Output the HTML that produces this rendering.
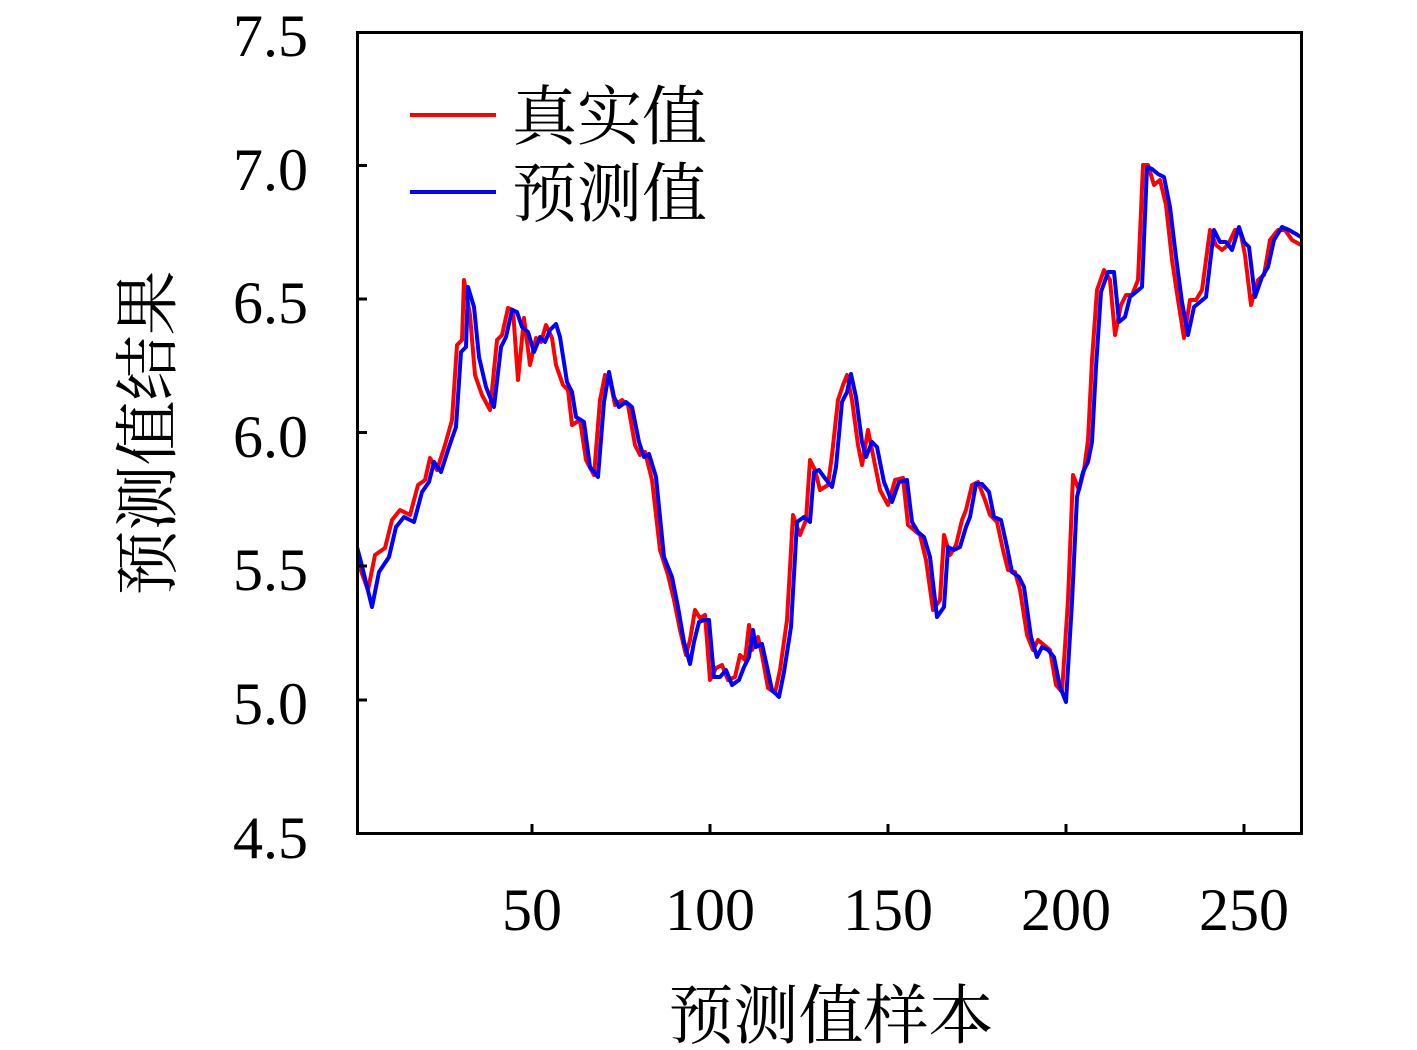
<!DOCTYPE html>
<html><head><meta charset="utf-8"><style>body{margin:0;background:#fff}svg{display:block}</style></head>
<body>
<svg width="1417" height="1050" xmlns="http://www.w3.org/2000/svg">
<rect width="1417" height="1050" fill="#fff"/>
<defs><clipPath id="c"><rect x="357" y="32" width="944" height="801"/></clipPath></defs>
<g clip-path="url(#c)" fill="none" stroke-width="4" stroke-linejoin="round">
<polyline stroke="#f00" points="357,560 368,590 375,555 385,548 392,520 400,510 410,515 418,485 425,480 430,458 437,470 445,445 452,420 457,345 462,340 464,280 470,315 475,375 482,395 490,410 497,340 502,335 508,308 513,310 518,380 524,318 530,365 536,338 541,342 546,325 552,338 556,365 563,385 568,390 572,425 580,420 586,460 594,475 600,400 605,375 610,380 615,405 622,400 628,405 635,445 640,455 645,452 652,480 660,550 668,575 674,600 680,630 686,655 690,640 695,610 700,618 705,615 710,680 716,668 722,665 728,680 735,677 740,655 745,660 749,625 752,650 758,637 762,655 768,688 775,693 780,670 787,620 793,515 800,535 806,520 810,460 815,470 820,490 828,485 832,455 838,400 843,385 847,375 852,400 858,445 862,465 868,430 873,455 880,490 888,505 895,480 903,478 908,525 914,530 920,535 926,560 933,610 940,600 944,535 950,555 956,545 962,520 966,510 972,485 978,482 985,500 990,515 997,522 1003,550 1008,570 1015,572 1020,590 1027,635 1033,650 1038,640 1044,645 1050,650 1056,685 1062,692 1068,600 1073,475 1079,490 1084,470 1088,440 1092,360 1097,290 1104,270 1110,280 1115,335 1121,305 1126,295 1132,295 1138,280 1143,165 1148,165 1154,185 1160,180 1166,205 1172,260 1178,300 1184,338 1190,300 1196,300 1202,290 1210,230 1216,245 1222,250 1228,245 1235,230 1240,230 1245,255 1251,305 1258,280 1264,275 1270,240 1278,230 1285,230 1292,240 1301,245"/>
<polyline stroke="#00f" transform="translate(4,2)" points="353,545 357,560 368,605 375,570 385,555 392,525 400,515 410,520 418,490 425,480 430,460 437,470 445,445 452,425 457,350 462,345 464,285 470,305 475,355 482,385 490,405 497,345 502,335 508,308 513,310 518,325 524,330 530,350 536,335 541,340 546,328 552,322 556,335 563,380 568,390 572,415 580,420 586,465 594,475 600,400 605,370 610,395 615,405 622,400 628,405 635,440 640,455 645,452 652,475 660,555 668,575 674,605 680,640 686,662 690,640 695,620 700,618 705,618 710,675 716,675 722,668 728,683 735,678 740,665 745,655 749,628 752,645 758,642 762,660 768,688 775,695 780,670 787,625 793,520 800,515 806,520 810,470 815,468 820,475 828,485 832,465 838,400 843,390 847,372 852,395 858,440 862,455 868,440 873,445 880,480 888,500 895,480 903,478 908,520 914,530 920,535 926,555 933,615 940,605 944,545 950,548 956,545 962,525 966,515 972,482 978,482 985,490 990,515 997,518 1003,545 1008,570 1015,575 1020,585 1027,635 1033,655 1038,645 1044,648 1050,655 1056,685 1062,700 1068,600 1073,495 1079,470 1084,460 1088,440 1092,365 1097,290 1104,270 1110,270 1115,320 1121,315 1126,295 1132,290 1138,285 1143,165 1148,167 1154,172 1160,175 1166,205 1172,255 1178,300 1184,333 1190,305 1196,300 1202,295 1210,228 1216,240 1222,240 1228,248 1235,225 1240,240 1245,245 1251,295 1258,275 1264,265 1270,238 1278,225 1285,228 1292,232 1305,240"/>
</g>
<g stroke="#000" stroke-width="3" fill="none">
<rect x="357.5" y="32.5" width="944" height="801"/>
<path d="M357 165.5h10M357 299h10M357 432.5h10M357 566h10M357 700h10M532 833v-9M710 833v-9M888 833v-9M1066 833v-9M1244 833v-9"/>
</g>
<g font-family="Liberation Serif, serif" font-size="60" fill="#000" text-anchor="end">
<text x="308" y="56">7.5</text><text x="308" y="190">7.0</text><text x="308" y="323">6.5</text><text x="308" y="457">6.0</text><text x="308" y="590">5.5</text><text x="308" y="724">5.0</text><text x="308" y="858">4.5</text>
</g>
<g font-family="Liberation Serif, serif" font-size="60" fill="#000" text-anchor="middle">
<text x="532" y="930">50</text><text x="710" y="930">100</text><text x="888" y="930">150</text><text x="1066" y="930">200</text><text x="1244" y="930">250</text>
</g>
<g font-family="'Liberation Serif','Noto Serif CJK SC',serif" font-size="65" fill="#000">
<text x="831" y="1038" text-anchor="middle">预测值样本</text>
<text transform="translate(170,433) rotate(-90)" text-anchor="middle">预测值结果</text>
<text x="512" y="139">真实值</text>
<text x="512" y="216">预测值</text>
</g>
<path d="M410 115h86" stroke="#f00" stroke-width="4"/>
<path d="M410 192h86" stroke="#00f" stroke-width="4"/>
</svg>
</body></html>
